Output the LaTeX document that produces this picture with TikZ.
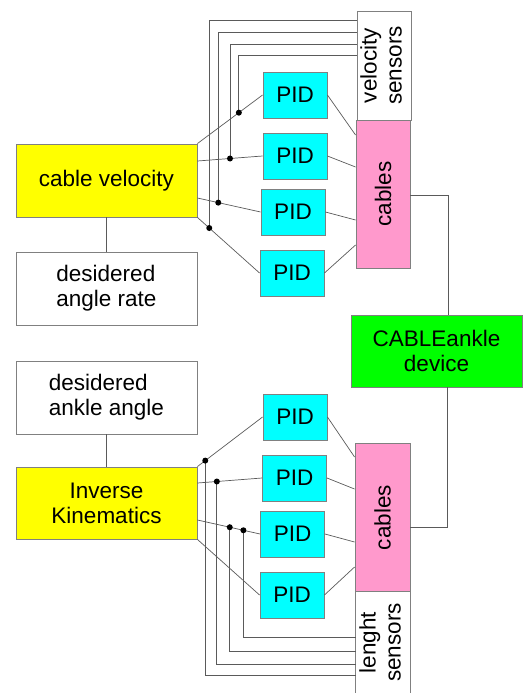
\documentclass[tikz,border=0pt]{standalone}
\usepackage{fontspec}
\setmainfont{Liberation Sans}
\usepackage{graphicx}
\definecolor{cyanbox}{HTML}{00FFFF}
\definecolor{yelbox}{HTML}{FFFF00}
\definecolor{pinkbox}{HTML}{FF99CC}
\definecolor{greenbox}{HTML}{00FF00}
\definecolor{edgegray}{HTML}{808080}
\definecolor{linegray}{HTML}{5A5A5A}
\tikzset{
  box/.style={draw=edgegray, line width=0.9pt, inner sep=0pt, align=center,
    font=\fontsize{22.5}{25}\selectfont},
  bigbox/.style={box, minimum width=181pt, minimum height=73pt},
  pidbox/.style={box, fill=cyanbox, minimum width=64pt, minimum height=46pt},
  cablebox/.style={box, fill=pinkbox, minimum width=54pt},
  conn/.style={draw=linegray, line width=0.7pt},
  sens/.style={draw=linegray, line width=0.8pt},
  dot/.style={circle, fill=black, inner sep=0pt, minimum size=6pt},
}
\newcommand{\rotlines}[2]{\rotatebox{90}{\begin{tabular}{@{}c@{}}#1\\#2\end{tabular}}}
\begin{document}
\begin{tikzpicture}[x=1pt, y=-1pt]
\useasboundingbox (0,0) rectangle (522,693);
% top section
\node[box, fill=white, minimum width=54pt, minimum height=109pt] (vs) at (384,65.5) {\rotlines{velocity}{sensors}};
\node[cablebox, minimum height=148pt] (cabT) at (383,194) {\rotatebox{90}{cables}};
\node[bigbox, fill=yelbox] (cv) at (106.5,180.5) {cable velocity};
\node[bigbox, fill=white, align=left] (dar) at (106.5,288.5) {desidered\\angle rate};
\node[pidbox] (p1) at (295,95) {PID};
\node[pidbox] (p2) at (295,156) {PID};
\node[pidbox] (p3) at (293,212) {PID};
\node[pidbox] (p4) at (292,273) {PID};
% device
\node[box, fill=greenbox, minimum width=171pt, minimum height=72pt] (dev) at (436.5,351) {CABLEankle\\device};
% bottom section
\node[bigbox, fill=white, align=left] (daa) at (106.5,397.5) {desidered\\ankle angle};
\node[bigbox, fill=yelbox, minimum height=72pt] (ik) at (106.5,503) {Inverse\\Kinematics};
\node[pidbox] (p5) at (295,417) {PID};
\node[pidbox] (p6) at (294.5,478) {PID};
\node[pidbox] (p7) at (292.5,534) {PID};
\node[pidbox] (p8) at (292,595) {PID};
\node[cablebox, minimum width=55pt, minimum height=149pt] (cabB) at (382.5,517.5) {\rotatebox{90}{cables}};
\node[box, draw=none, fill=white, minimum width=54pt, minimum height=101pt] (ls) at (383,642.5) {\rotlines{lenght}{sensors}};
\draw[edgegray, line width=0.9pt] (ls.south west) -- (ls.north west) -- (ls.north east) -- (ls.south east);

% top: controller to PIDs
\draw[conn] (cv.north east) -- (p1.west) coordinate[pos=0.636] (d1);
\draw[conn] ([yshift=19.5pt]cv.east) -- (p2.west) coordinate[pos=0.5] (d2);
\draw[conn] ([yshift=-17.5pt]cv.east) -- (p3.west) coordinate[pos=0.33] (d3);
\draw[conn] (cv.south east) -- (p4.west) coordinate[pos=0.19] (d4);
% velocity sensor feedback
\draw[sens] ([yshift=10.5pt]vs.west) -| (d1);
\draw[sens] ([yshift=21.5pt]vs.west) -| (d2);
\draw[sens] ([yshift=33.5pt]vs.west) -| (d3);
\draw[sens] ([yshift=45.5pt]vs.west) -| (d4);
\node[dot] at (d1) {};
\node[dot] at (d2) {};
\node[dot] at (d3) {};
\node[dot] at (d4) {};
% PIDs to cables
\draw[conn] (p1.east) -- ([yshift=59pt]cabT.west);
\draw[conn] (p2.east) -- ([yshift=27pt]cabT.west);
\draw[conn] (p3.east) -- ([yshift=-26pt]cabT.west);
\draw[conn] (p4.east) -- ([yshift=-51pt]cabT.west);
\draw[conn] (cv.south) -- (dar.north);
% cables to device
\draw[conn] ([yshift=-1pt]cabT.east) -| ([xshift=11.5pt]dev.north);
\draw[conn] ([yshift=-9.5pt]cabB.east) -| ([xshift=10.5pt]dev.south);

% bottom: controller to PIDs
\draw[conn] (daa.south) -- (ik.north);
\draw[conn] (ik.north east) -- (p5.west) coordinate[pos=0.12] (d5);
\draw[conn] ([yshift=20pt]ik.east) -- (p6.west) coordinate[pos=0.30] (d6);
\draw[conn] ([yshift=-17pt]ik.east) -- (p7.west) coordinate[pos=0.516] (d7a) coordinate[pos=0.734] (d7b);
\draw[conn] (ik.south east) -- (p8.west);
% length sensor feedback
\draw[sens] ([yshift=-32.5pt]ls.west) -| (d5);
\draw[sens] ([yshift=-21.5pt]ls.west) -| (d6);
\draw[sens] ([yshift=-8.5pt]ls.west) -| (d7a);
\draw[sens] ([yshift=5.5pt]ls.west) -| (d7b);
\node[dot] at (d5) {};
\node[dot] at (d6) {};
\node[dot] at (d7a) {};
\node[dot] at (d7b) {};
% PIDs to cables
\draw[conn] (p5.east) -- ([yshift=60.5pt]cabB.west);
\draw[conn] (p6.east) -- ([yshift=28.5pt]cabB.west);
\draw[conn] (p7.east) -- ([yshift=-24.5pt]cabB.west);
\draw[conn] (p8.east) -- ([yshift=-49.5pt]cabB.west);
\end{tikzpicture}
\end{document}
